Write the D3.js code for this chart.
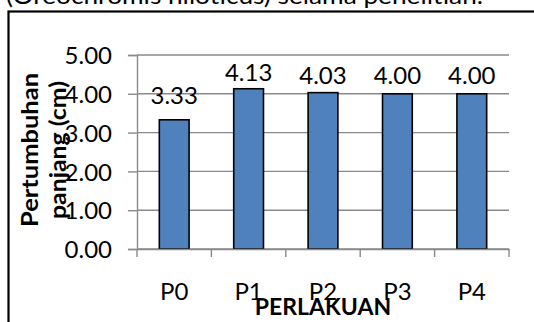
<!DOCTYPE html>
<html>
<head>
<meta charset="utf-8">
<script src="https://cdn.jsdelivr.net/npm/d3@7"></script>
<style>
  html, body { margin: 0; padding: 0; background: #fff; overflow: hidden; }
  svg { display: block; }
  text { font-family: Lato, "Open Sans", sans-serif; fill: #000; }
</style>
</head>
<body>
<svg id="chart" width="534" height="322"></svg>
<script>
// ---- data ----
const categories = ["P0", "P1", "P2", "P3", "P4"];
const values = [3.33, 4.13, 4.03, 4.00, 4.00];
const yTicks = [0, 1, 2, 3, 4, 5];
const yTitleLines = ["Pertumbuhan", "panjang (cm)"];
const xTitle = "PERLAKUAN";
const captionText = "(Oreochromis niloticus) selama penelitian.";

// ---- layout ----
const svg = d3.select("#chart");
const plot = { left: 137, right: 509, top: 55, bottom: 249 };
const gridColor = "#8a8a8a";

const x = d3.scaleBand()
  .domain(categories)
  .range([plot.left, plot.right])
  .paddingInner(0.6)
  .paddingOuter(0.3);

const y = d3.scaleLinear()
  .domain([0, 5])
  .range([plot.bottom, plot.top]);

// caption (cut off at top)
svg.append("text")
  .attr("x", 6)
  .attr("y", 4)
  .style("font-size", "24px")
  .attr("textLength", 477)
  .attr("lengthAdjust", "spacingAndGlyphs")
  .text(captionText);

// chart frame
svg.append("rect")
  .attr("x", 8.5).attr("y", 11.5)
  .attr("width", 540).attr("height", 330)
  .attr("fill", "none")
  .attr("stroke", "#000")
  .attr("stroke-width", 2.2);

// gridlines
svg.append("g")
  .selectAll("line")
  .data(yTicks)
  .join("line")
  .attr("x1", plot.left).attr("x2", plot.right)
  .attr("y1", d => y(d)).attr("y2", d => y(d))
  .attr("stroke", gridColor)
  .attr("stroke-width", 1.4);

// y axis
const yAxis = svg.append("g")
  .attr("transform", `translate(${plot.left},0)`)
  .call(d3.axisLeft(y).tickValues(yTicks).tickSize(9).tickPadding(16).tickFormat(d3.format(".2f")));
yAxis.select(".domain").attr("stroke", gridColor).attr("stroke-width", 1.4);
yAxis.selectAll(".tick line").attr("stroke", gridColor).attr("stroke-width", 1.4);
yAxis.selectAll(".tick text")
  .style("font-size", "24px")
  .style("font-family", "Lato, 'Open Sans', sans-serif")
  .attr("fill", "#000")
  .attr("dy", "0.36em");

// bars
svg.append("g")
  .selectAll("rect")
  .data(values)
  .join("rect")
  .attr("x", (d, i) => x(categories[i]))
  .attr("y", d => y(d))
  .attr("width", x.bandwidth())
  .attr("height", d => y(0) - y(d))
  .attr("fill", "#4F81BD")
  .attr("stroke", "#000")
  .attr("stroke-width", 1.6);

// x axis
const xAxis = svg.append("g")
  .attr("transform", `translate(0,${plot.bottom})`)
  .call(d3.axisBottom(x).tickSize(0).tickPadding(34));
xAxis.select(".domain").attr("stroke", gridColor).attr("stroke-width", 1.4);
xAxis.selectAll(".tick text")
  .style("font-size", "24px")
  .style("font-family", "Lato, 'Open Sans', sans-serif")
  .attr("fill", "#000");

// category boundary tick marks
const boundaries = categories.map(c => x(c) - x.step() * x.paddingOuter())
  .concat([plot.right]);
svg.append("g")
  .selectAll("line")
  .data(boundaries)
  .join("line")
  .attr("x1", d => d).attr("x2", d => d)
  .attr("y1", plot.bottom).attr("y2", plot.bottom + 8)
  .attr("stroke", gridColor)
  .attr("stroke-width", 1.4);

// value labels
const labelLift = [16, 8, 8.5, 9.5, 9.5];
svg.append("g")
  .selectAll("text")
  .data(values)
  .join("text")
  .attr("x", (d, i) => x(categories[i]) + x.bandwidth() / 2)
  .attr("y", (d, i) => y(d) - labelLift[i])
  .attr("text-anchor", "middle")
  .style("font-size", "24px")
  .text(d => d3.format(".2f")(d));

// y axis title
const yTitleWidths = [154, 138];
const yTitle = svg.append("text")
  .attr("transform", "translate(38,150) rotate(-90)")
  .attr("text-anchor", "middle")
  .style("font-size", "23px")
  .style("font-weight", "bold");
yTitle.selectAll("tspan")
  .data(yTitleLines)
  .join("tspan")
  .attr("x", 0)
  .attr("dy", (d, i) => i === 0 ? 0 : 28)
  .attr("textLength", (d, i) => yTitleWidths[i])
  .attr("lengthAdjust", "spacingAndGlyphs")
  .text(d => d);

// x axis title
svg.append("text")
  .attr("x", 323)
  .attr("y", 315)
  .attr("text-anchor", "middle")
  .style("font-size", "23px")
  .style("font-weight", "bold")
  .text(xTitle);
</script>
</body>
</html>
